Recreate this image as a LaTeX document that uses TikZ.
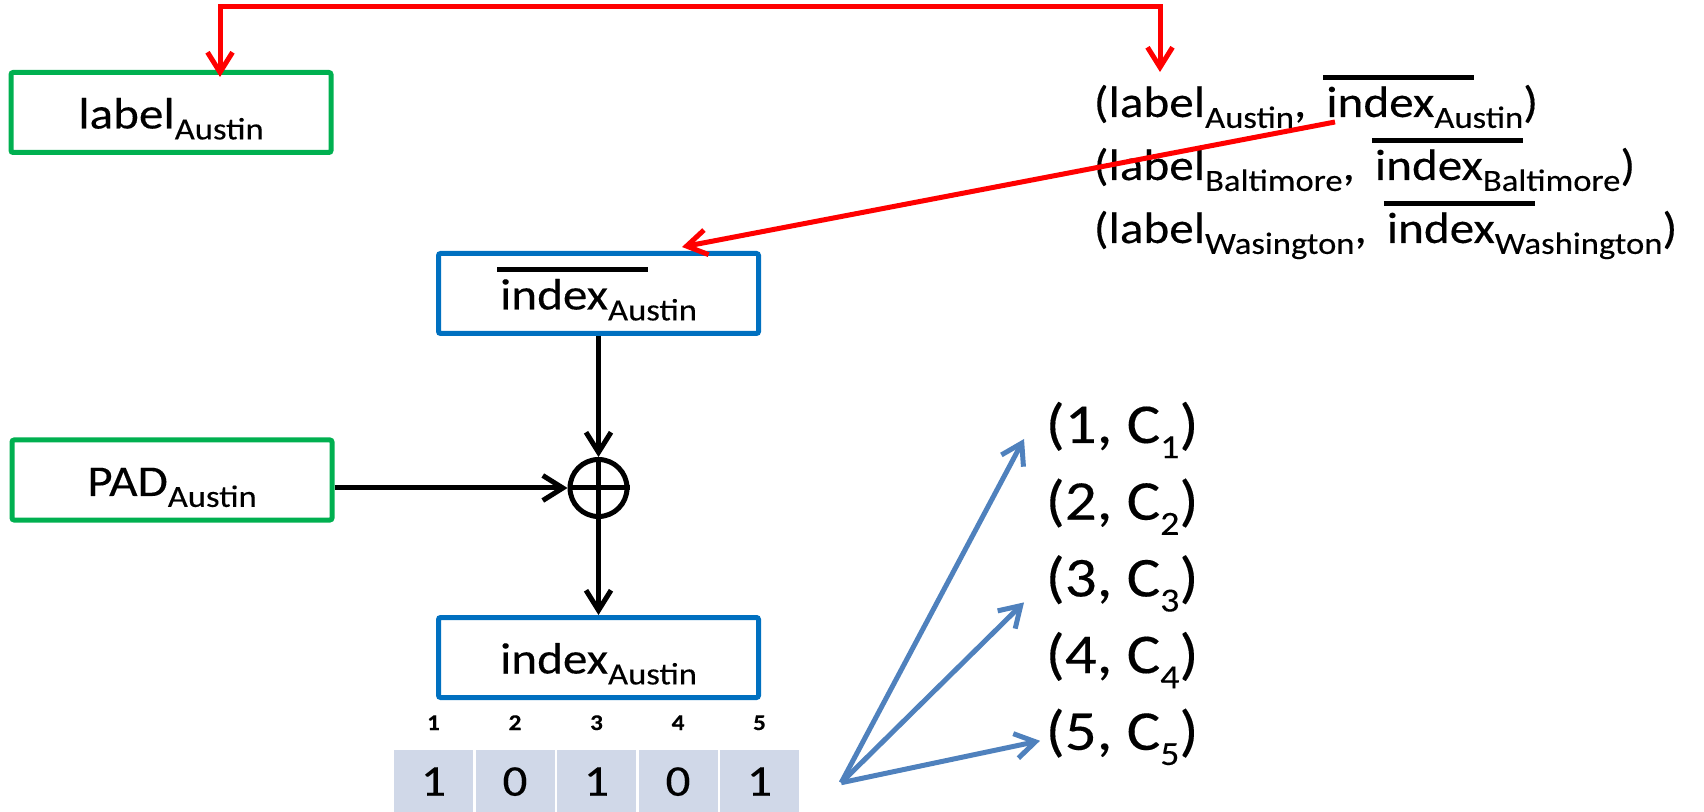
\documentclass[tikz,border=0pt]{standalone}
\usepackage{fontspec}
\setmainfont[FakeStretch=1.12, FakeBold=0.25]{Carlito}
\usetikzlibrary{positioning}
\usetikzlibrary{calc}
\usetikzlibrary{arrows.meta}

\definecolor{boxgreen}{RGB}{0,176,80}
\definecolor{boxblue}{RGB}{0,112,192}
\definecolor{cellfill}{RGB}{208,216,232}
\definecolor{fanblue}{RGB}{79,129,189}

\newcommand{\bigtext}{\fontsize{12.5pt}{15pt}\selectfont}
\newcommand{\midtext}{\fontsize{16pt}{19pt}\selectfont}
\newcommand{\tinybold}{\fontsize{6.4pt}{7pt}\selectfont\bfseries}
\newcommand{\lowsub}[2][3.1pt]{\raisebox{-#1}{\fontsize{8.8pt}{10pt}\selectfont #2}}
\newcommand{\barred}[1]{\makebox[0pt][l]{\hspace{-0.03cm}\rule[0.37cm]{1.51cm}{0.05cm}}#1}
\newcommand{\gap}{\hspace{0.2cm}}

\begin{document}
\begin{tikzpicture}[
    box/.style={draw, rectangle, line width=0.05cm, minimum width=3.2cm, minimum height=0.80cm,
        inner sep=0pt, text height=0.40cm, text depth=0.08cm, rounded corners=0.6pt, font=\bigtext},
    greenbox/.style={box, draw=boxgreen},
    bluebox/.style={box, draw=boxblue},
    cell/.style={rectangle, fill=cellfill, minimum width=0.79cm, minimum height=0.70cm, inner sep=0pt,
        text height=0.46cm, text depth=0.24cm, anchor=north, font=\bigtext},
    plain/.style={inner sep=0pt},
    tip/.tip={Straight Barb[length=0.2cm, width=0.25cm]},
    link/.style={line width=0.05cm, -tip},
    redlink/.style={link, draw=red},
    fanlink/.style={link, draw=fanblue},
]
    % key lookup: label -> (label, index) pair, then index recovered with the pad and mapped to the ciphertexts
    \useasboundingbox (0,0) rectangle (17.04,-8.12);

    \node (lbl) [greenbox] at (1.71, -1.125) {label\lowsub{Austin}};
    \node (pad) [greenbox] at ($(lbl) + (0.01cm, -3.675cm)$) {PAD\lowsub{Austin}};
    \node (ibar) [bluebox] at ($(lbl) + (4.275cm, -1.81cm)$) {\barred{index}\lowsub{Austin}};
    \node (xor) [circle, draw, line width=0.05cm, minimum size=0.57cm, inner sep=0pt] at ($(ibar) + (0, -1.945cm)$) {};
    \node (idx) [bluebox] at ($(xor) + (0, -1.695cm)$) {index\lowsub{Austin}};

    \node (pairA) [plain, font=\bigtext, anchor=base west] at (10.93, -1.17) {(label\lowsub{Austin},\gap\barred{index}\lowsub{Austin})};
    \node (pairB) [plain, font=\bigtext, anchor=base west] at ($(pairA.base west) + (0, -0.63cm)$) {(label\lowsub{Baltimore},\gap\barred{index}\lowsub{Baltimore})};
    \node (pairC) [plain, font=\bigtext, anchor=base west] at ($(pairB.base west) + (0, -0.63cm)$) {(label\lowsub{Wasington},\gap\barred{index}\lowsub{Washington})};

    \node (c3) [cell] at ($(idx.south) + (-0.02cm, -0.49cm)$) {1};
    \node (c2) [cell] at ($(c3.north) + (-0.815cm, 0)$) {0};
    \node (c1) [cell] at ($(c2.north) + (-0.815cm, 0)$) {1};
    \node (c4) [cell] at ($(c3.north) + (0.815cm, 0)$) {0};
    \node (c5) [cell] at ($(c4.north) + (0.815cm, 0)$) {1};

    \node (n1) [plain, font=\tinybold, anchor=base] at ($(c1.north) + (0, 0.19cm)$) {1};
    \node (n2) [plain, font=\tinybold, anchor=base] at ($(c2.north) + (0, 0.19cm)$) {2};
    \node (n3) [plain, font=\tinybold, anchor=base] at ($(c3.north) + (0, 0.19cm)$) {3};
    \node (n4) [plain, font=\tinybold, anchor=base] at ($(c4.north) + (0, 0.19cm)$) {4};
    \node (n5) [plain, font=\tinybold, anchor=base] at ($(c5.north) + (0, 0.19cm)$) {5};

    \node (ci1) [plain, font=\midtext, anchor=base west] at (10.45, -4.43) {(1, C\lowsub[4.3pt]{\fontsize{9.6pt}{11pt}\selectfont 1})};
    \node (ci2) [plain, font=\midtext, anchor=base west] at ($(ci1.base west) + (0, -0.767cm)$) {(2, C\lowsub[4.3pt]{\fontsize{9.6pt}{11pt}\selectfont 2})};
    \node (ci3) [plain, font=\midtext, anchor=base west] at ($(ci2.base west) + (0, -0.767cm)$) {(3, C\lowsub[4.3pt]{\fontsize{9.6pt}{11pt}\selectfont 3})};
    \node (ci4) [plain, font=\midtext, anchor=base west] at ($(ci3.base west) + (0, -0.767cm)$) {(4, C\lowsub[4.3pt]{\fontsize{9.6pt}{11pt}\selectfont 4})};
    \node (ci5) [plain, font=\midtext, anchor=base west] at ($(ci4.base west) + (0, -0.767cm)$) {(5, C\lowsub[4.3pt]{\fontsize{9.6pt}{11pt}\selectfont 5})};

    \draw[redlink, tip-tip] ($(lbl.north) + (0.49cm, -0.07cm)$) -- ++(0, 0.70cm) -| ($(pairA.base west) + (0.67cm, 0.45cm)$);
    \draw[redlink] ($(pairA.base west) + (2.42cm, -0.05cm)$) -- ($(ibar.north) + (0.835cm, 0.04cm)$);

    \draw[link] (ibar.south) -- (xor.north);
    \draw[line width=0.05cm] (xor.north) -- (xor.south);
    \draw[line width=0.05cm] (xor.west) -- (xor.east);
    \draw[link] (pad.east |- xor) -- (xor.west);
    \draw[link] (xor.south) -- (idx.north);

    \coordinate (fan) at ($(c5.east) + (0.415cm, 0.02cm)$);
    \draw[fanlink] (fan) -- ($(ci1.base west) + (-0.21cm, 0.04cm)$);
    \draw[fanlink] (fan) -- ($(ci3.base west) + (-0.21cm, -0.06cm)$);
    \draw[fanlink] (fan) -- ($(ci5.base west) + (-0.05cm, 0.09cm)$);

\end{tikzpicture}
\end{document}
